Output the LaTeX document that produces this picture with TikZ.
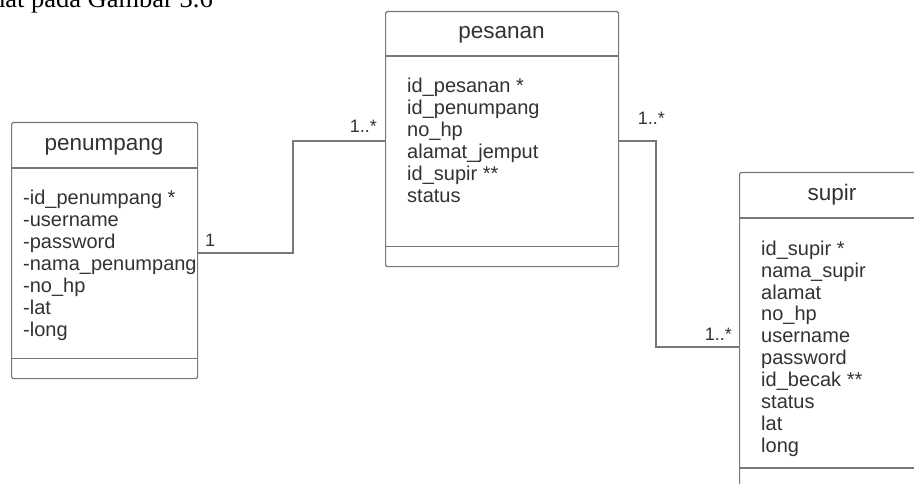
\documentclass[tikz,border=0pt]{standalone}
\usepackage{fontspec}
\setmainfont{Liberation Sans}
\newfontfamily\bodyserif{Liberation Serif}
\definecolor{linegray}{RGB}{120,120,120}
\definecolor{textgray}{RGB}{50,50,50}
\begin{document}
\begin{tikzpicture}[x=1pt,y=-1pt,
  classbox/.style={draw=linegray, line width=1.2pt, rounded corners=1.5pt,
    anchor=north west, inner sep=0pt},
  umlline/.style={draw=linegray, line width=1.2pt},
  classtitle/.style={font=\fontsize{22.5}{24}\selectfont, text=textgray,
    inner sep=0pt, anchor=base},
  attrs/.style={font=\fontsize{20}{22}\selectfont, text=textgray,
    inner sep=0pt, anchor=base west},
  mult/.style={font=\fontsize{18}{20}\selectfont, text=textgray, inner sep=0pt}]
\useasboundingbox (0,0) rectangle (914,484);

% running text of the page above the figure
\node[font=\bodyserif\fontsize{26.5}{30}\selectfont, inner sep=0pt, anchor=base east]
  (caption) at (213,8) {hat pada Gambar 3.6};

% class penumpang
\node[classbox, minimum width=186pt, minimum height=256pt] (pen) at (11,122) {};
\draw[umlline] ([yshift=-46pt]pen.north west) -- ([yshift=-46pt]pen.north east);
\draw[umlline] ([yshift=21pt]pen.south west) -- ([yshift=21pt]pen.south east);
\node[classtitle] (pen-t) at (104,151) {penumpang};
\node[attrs] (pen-a) at (23,205) {\begin{tabular}[t]{@{}l@{}}
-id\_penumpang *\\ -username\\ -password\\ -nama\_penumpang\\ -no\_hp\\ -lat\\ -long
\end{tabular}};

% class pesanan
\node[classbox, minimum width=233pt, minimum height=255pt] (pes) at (385,11) {};
\draw[umlline] ([yshift=-45pt]pes.north west) -- ([yshift=-45pt]pes.north east);
\draw[umlline] ([yshift=21pt]pes.south west) -- ([yshift=21pt]pes.south east);
\node[classtitle] (pes-t) at (501.5,39) {pesanan};
\node[attrs] (pes-a) at (407,93) {\begin{tabular}[t]{@{}l@{}}
id\_pesanan *\\ id\_penumpang\\ no\_hp\\ alamat\_jemput\\ id\_supir **\\ status
\end{tabular}};

% class supir
\node[classbox, minimum width=191pt, minimum height=340pt] (sup) at (739,172) {};
\draw[umlline] ([yshift=-46pt]sup.north west) -- ([yshift=-46pt]sup.north east);
\draw[umlline] ([yshift=-296pt]sup.north west) -- ([yshift=-296pt]sup.north east);
\node[classtitle] (sup-t) at (832,201) {supir};
\node[attrs] (sup-a) at (761,255) {\begin{tabular}[t]{@{}l@{}}
id\_supir *\\ nama\_supir\\ alamat\\ no\_hp\\ username\\ password\\ id\_becak **\\ status\\ lat\\ long
\end{tabular}};

% associations
\coordinate (j1) at (293,141);
\coordinate (j2) at (656,347);
\draw[umlline] ([yshift=-131pt]pen.north east) -| (j1) -- (j1 -| pes.west);
\draw[umlline] ([yshift=-130pt]pes.north east) -| (j2) -- (j2 -| sup.west);

% multiplicities
\node[mult, anchor=base west] (m1) at (205,247) {1};
\node[mult, anchor=base east] (m2) at (377,133) {1..*};
\node[mult, anchor=base east] (m3) at (665,125) {1..*};
\node[mult, anchor=base east] (m4) at (732,340) {1..*};
\end{tikzpicture}
\end{document}
